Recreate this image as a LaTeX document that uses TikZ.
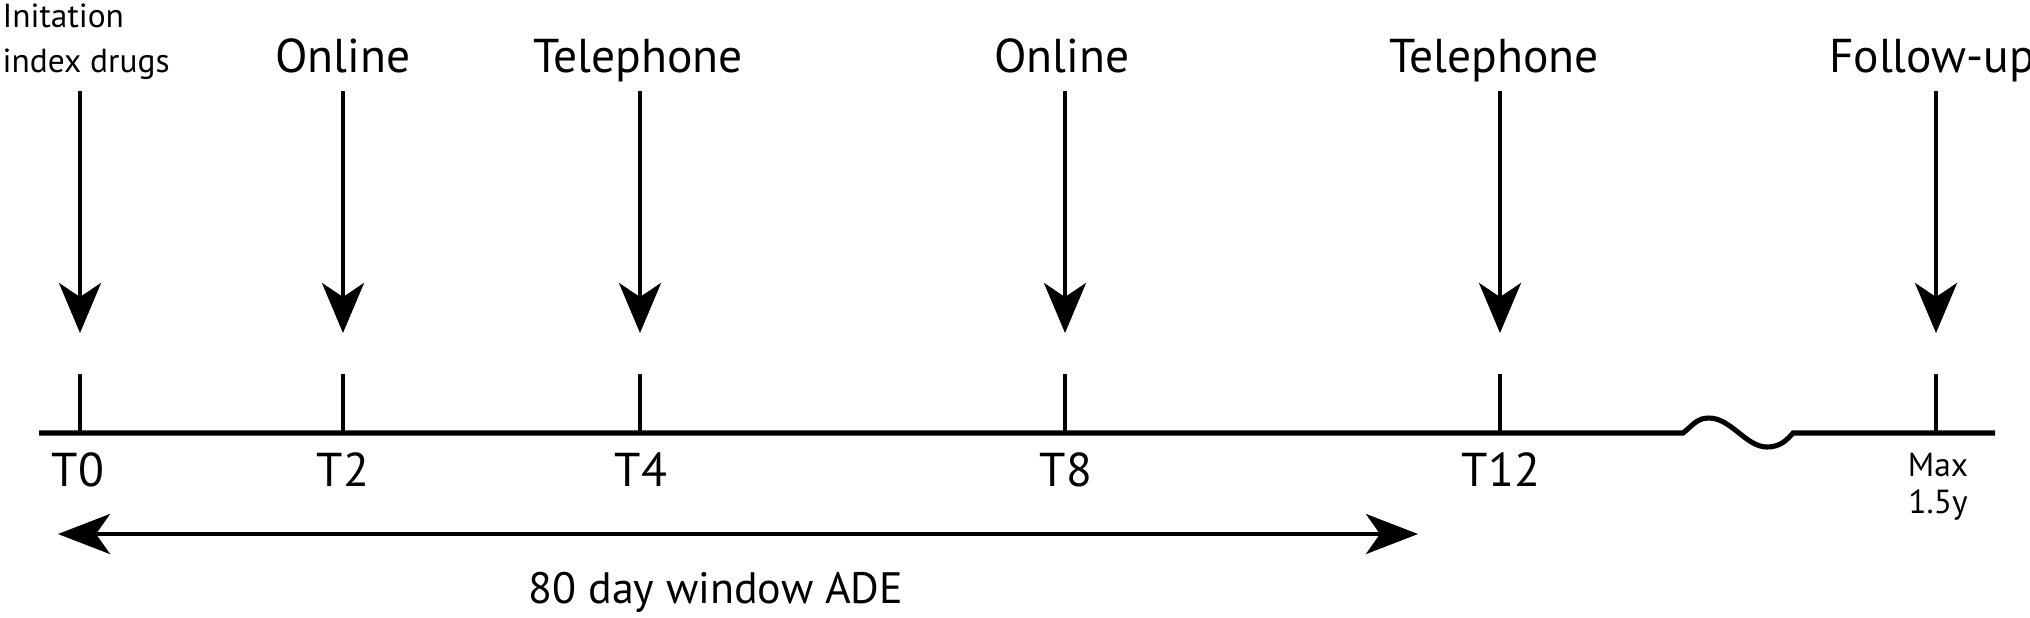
\documentclass[tikz,border=0pt]{standalone}
\usepackage{fontspec}
\setmainfont{PT Sans}
\usetikzlibrary{arrows.meta}
\begin{document}
\begin{tikzpicture}[x=0.01cm,y=-0.01cm,
  big/.style={font=\fontsize{13.5}{16}\selectfont, inner sep=0pt},
  small/.style={font=\fontsize{9.5}{11}\selectfont, inner sep=0pt},
  mid/.style={font=\fontsize{12.5}{15}\selectfont, inner sep=0pt},
  axisline/.style={line width=1.45pt},
  tickline/.style={line width=1.15pt},
  evarrow/.style={line width=1.15pt, -{Stealth[length=0.5cm,width=0.42cm,inset=0.14cm]}},
  winarrow/.style={line width=1.15pt, {Stealth[length=0.52cm,width=0.4cm,inset=0.14cm]}-{Stealth[length=0.52cm,width=0.4cm,inset=0.14cm]}}]
\useasboundingbox (0,0) rectangle (2030,617);
% top labels
\node[small, anchor=base west] (lab0a) at (2,27) {Initation};
\node[small, anchor=base west] (lab0b) at (2,72) {index drugs};
\node[big, anchor=base] (lab1) at (343,72) {Online};
\node[big, anchor=base] (lab2) at (638,72) {Telephone};
\node[big, anchor=base] (lab3) at (1062,72) {Online};
\node[big, anchor=base] (lab4) at (1494,72) {Telephone};
\node[big, anchor=base] (lab5) at (1932,72) {Follow-up};
% event arrows
\foreach \i/\x in {0/80,1/343,2/640,3/1065,4/1500,5/1936}{
  \coordinate (s\i) at (\x,91);
  \coordinate (e\i) at (\x,333);
  \coordinate (tt\i) at (\x,374);
  \coordinate (tb\i) at (\x,433);
  \draw[evarrow] (s\i) -- (e\i);
  \draw[tickline] (tt\i) -- (tb\i);
}
% axis
\coordinate (ax0) at (39,433);
\coordinate (w0) at (1683,433);
\coordinate (w1) at (1793,433);
\coordinate (ax1) at (1995,433);
\draw[axisline] (ax0) -- (w0)
  .. controls (1693,425) and (1697,418) .. (1709,418)
  .. controls (1731,418) and (1746,447) .. (1767,447)
  .. controls (1780,447) and (1787,440) .. (w1) -- (ax1);
% time labels
\node[big, anchor=base] (t0) at (78,486) {T0};
\node[big, anchor=base] (t2) at (343,486) {T2};
\node[big, anchor=base] (t4) at (641,486) {T4};
\node[big, anchor=base] (t8) at (1066,486) {T8};
\node[big, anchor=base] (t12) at (1501,486) {T12};
\node[small, anchor=base] (max) at (1938,476) {Max};
\node[small, anchor=base] (maxy) at (1938,513) {1.5y};
% window
\coordinate (wl) at (58,534);
\coordinate (wr) at (1418,534);
\draw[winarrow] (wl) -- (wr);
\node[mid, anchor=base] (win) at (716,603) {80 day window ADE};
\end{tikzpicture}
\end{document}
